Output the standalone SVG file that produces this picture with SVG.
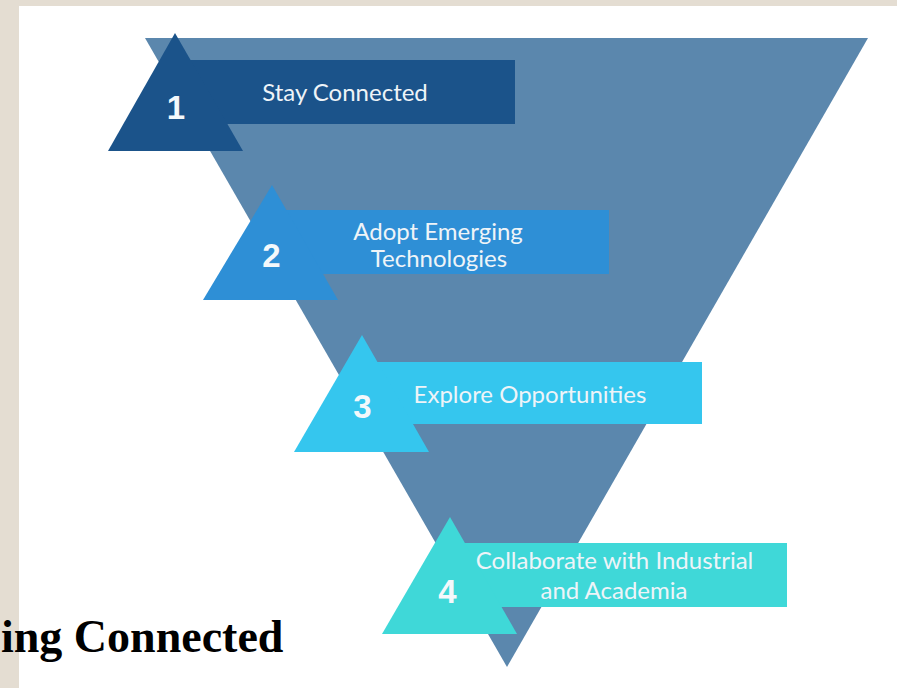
<svg xmlns="http://www.w3.org/2000/svg" width="897" height="688" viewBox="0 0 897 688">
  <style>
    .num { font-family: "Liberation Sans", Arial, sans-serif; font-weight: bold; font-size: 33px; fill: #f4f8fb; text-anchor: middle; }
    .lbl { font-family: Lato, "Open Sans", sans-serif; font-size: 24px; fill: #eef4f8; text-anchor: middle; }
    .title { font-family: "Liberation Serif", "Times New Roman", serif; font-weight: bold; font-size: 46px; fill: #000; }
  </style>

  <!-- page background and slide area -->
  <rect x="0" y="0" width="897" height="688" fill="#e4ddd2"/>
  <rect x="19" y="6" width="878" height="682" fill="#ffffff"/>

  <!-- inverted funnel -->
  <polygon id="funnel" points="145,38 868,38 507,667" fill="#5b87ad"/>

  <g id="step1">
    <rect x="175" y="60" width="340" height="64" fill="#1b538a"/>
    <polygon points="175,33 243,151 108,151" fill="#1b538a"/>
    <text class="num" x="176" y="119">1</text>
    <text class="lbl" x="345" y="101">Stay Connected</text>
  </g>

  <g id="step2">
    <rect x="272" y="210" width="337" height="64" fill="#2e8fd6"/>
    <polygon points="272,185 338,300 203,300" fill="#2e8fd6"/>
    <text class="num" x="271.5" y="267">2</text>
    <text class="lbl" x="438" y="240">Adopt Emerging</text>
    <text class="lbl" x="439" y="267">Technologies</text>
  </g>

  <g id="step3">
    <rect x="362" y="362" width="340" height="62" fill="#35c6ee"/>
    <polygon points="362,335 429,452 294,452" fill="#35c6ee"/>
    <text class="num" x="362.5" y="418">3</text>
    <text class="lbl" x="530" y="403">Explore Opportunities</text>
  </g>

  <g id="step4">
    <rect x="450" y="543" width="337" height="64" fill="#3fd8d8"/>
    <polygon points="450,517 517,634 382,634" fill="#3fd8d8"/>
    <text class="num" x="447.5" y="603">4</text>
    <text class="lbl" x="614.5" y="569">Collaborate with Industrial</text>
    <text class="lbl" x="614" y="599">and Academia</text>
  </g>

  <g id="connectors"/>

  <text class="title" x="1" y="652">ing Connected</text>
</svg>
